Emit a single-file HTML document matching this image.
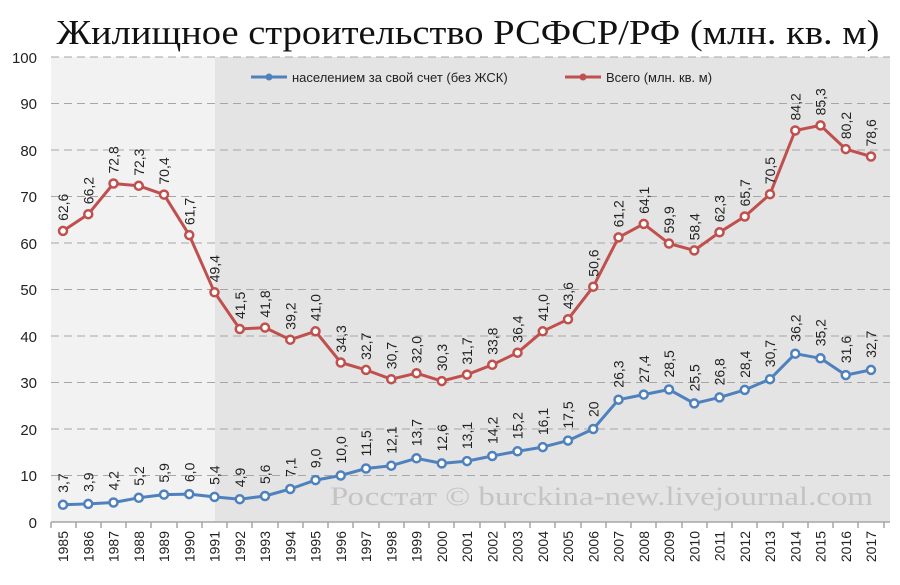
<!DOCTYPE html>
<html><head><meta charset="utf-8"><style>
html,body{margin:0;padding:0;background:#fff;}
svg{display:block;font-family:"Liberation Sans",sans-serif;}
</style></head><body>
<svg width="900" height="585" viewBox="0 0 900 585" xmlns="http://www.w3.org/2000/svg">
<text x="468" y="44" text-anchor="middle" font-family="Liberation Serif, serif" font-size="35" textLength="823" lengthAdjust="spacingAndGlyphs" fill="#111">Жилищное строительство РСФСР/РФ (млн. кв. м)</text>
<rect x="51" y="57" width="164" height="465" fill="#f2f2f2"/>
<rect x="215" y="57" width="675" height="465" fill="#e4e4e4"/>
<g stroke="#a6a6a6" stroke-width="1" stroke-dasharray="8,5">
<line x1="51" y1="57" x2="890" y2="57"/><line x1="51" y1="103.5" x2="890" y2="103.5"/><line x1="51" y1="150" x2="890" y2="150"/><line x1="51" y1="196.5" x2="890" y2="196.5"/><line x1="51" y1="243" x2="890" y2="243"/><line x1="51" y1="289.5" x2="890" y2="289.5"/><line x1="51" y1="336" x2="890" y2="336"/><line x1="51" y1="382.5" x2="890" y2="382.5"/><line x1="51" y1="429" x2="890" y2="429"/><line x1="51" y1="475.5" x2="890" y2="475.5"/>
</g>
<line x1="51" y1="522" x2="890" y2="522" stroke="#a6a6a6" stroke-width="1.5"/>
<g font-size="15" fill="#222" text-anchor="end">
<text x="37" y="63">100</text><text x="37" y="109">90</text><text x="37" y="156">80</text><text x="37" y="202">70</text><text x="37" y="249">60</text><text x="37" y="295">50</text><text x="37" y="342">40</text><text x="37" y="388">30</text><text x="37" y="435">20</text><text x="37" y="481">10</text><text x="37" y="528">0</text>
</g>
<g stroke="#a6a6a6" stroke-width="1.5">
<line x1="51" y1="522" x2="51" y2="528"/><line x1="76" y1="522" x2="76" y2="528"/><line x1="101" y1="522" x2="101" y2="528"/><line x1="126" y1="522" x2="126" y2="528"/><line x1="151" y1="522" x2="151" y2="528"/><line x1="177" y1="522" x2="177" y2="528"/><line x1="202" y1="522" x2="202" y2="528"/><line x1="227" y1="522" x2="227" y2="528"/><line x1="252" y1="522" x2="252" y2="528"/><line x1="278" y1="522" x2="278" y2="528"/><line x1="303" y1="522" x2="303" y2="528"/><line x1="328" y1="522" x2="328" y2="528"/><line x1="353" y1="522" x2="353" y2="528"/><line x1="379" y1="522" x2="379" y2="528"/><line x1="404" y1="522" x2="404" y2="528"/><line x1="429" y1="522" x2="429" y2="528"/><line x1="454" y1="522" x2="454" y2="528"/><line x1="480" y1="522" x2="480" y2="528"/><line x1="505" y1="522" x2="505" y2="528"/><line x1="530" y1="522" x2="530" y2="528"/><line x1="555" y1="522" x2="555" y2="528"/><line x1="581" y1="522" x2="581" y2="528"/><line x1="606" y1="522" x2="606" y2="528"/><line x1="631" y1="522" x2="631" y2="528"/><line x1="656" y1="522" x2="656" y2="528"/><line x1="682" y1="522" x2="682" y2="528"/><line x1="707" y1="522" x2="707" y2="528"/><line x1="732" y1="522" x2="732" y2="528"/><line x1="757" y1="522" x2="757" y2="528"/><line x1="783" y1="522" x2="783" y2="528"/><line x1="808" y1="522" x2="808" y2="528"/><line x1="833" y1="522" x2="833" y2="528"/><line x1="858" y1="522" x2="858" y2="528"/><line x1="884" y1="522" x2="884" y2="528"/>
</g>
<g font-size="14" fill="#222" text-anchor="end">
<text transform="translate(68,531) rotate(-90)">1985</text><text transform="translate(93.25,531) rotate(-90)">1986</text><text transform="translate(118.5,531) rotate(-90)">1987</text><text transform="translate(143.75,531) rotate(-90)">1988</text><text transform="translate(169,531) rotate(-90)">1989</text><text transform="translate(194.25,531) rotate(-90)">1990</text><text transform="translate(219.5,531) rotate(-90)">1991</text><text transform="translate(244.75,531) rotate(-90)">1992</text><text transform="translate(270,531) rotate(-90)">1993</text><text transform="translate(295.25,531) rotate(-90)">1994</text><text transform="translate(320.5,531) rotate(-90)">1995</text><text transform="translate(345.75,531) rotate(-90)">1996</text><text transform="translate(371,531) rotate(-90)">1997</text><text transform="translate(396.25,531) rotate(-90)">1998</text><text transform="translate(421.5,531) rotate(-90)">1999</text><text transform="translate(446.75,531) rotate(-90)">2000</text><text transform="translate(472,531) rotate(-90)">2001</text><text transform="translate(497.25,531) rotate(-90)">2002</text><text transform="translate(522.5,531) rotate(-90)">2003</text><text transform="translate(547.75,531) rotate(-90)">2004</text><text transform="translate(573,531) rotate(-90)">2005</text><text transform="translate(598.25,531) rotate(-90)">2006</text><text transform="translate(623.5,531) rotate(-90)">2007</text><text transform="translate(648.75,531) rotate(-90)">2008</text><text transform="translate(674,531) rotate(-90)">2009</text><text transform="translate(699.25,531) rotate(-90)">2010</text><text transform="translate(724.5,531) rotate(-90)">2011</text><text transform="translate(749.75,531) rotate(-90)">2012</text><text transform="translate(775,531) rotate(-90)">2013</text><text transform="translate(800.25,531) rotate(-90)">2014</text><text transform="translate(825.5,531) rotate(-90)">2015</text><text transform="translate(850.75,531) rotate(-90)">2016</text><text transform="translate(876,531) rotate(-90)">2017</text>
</g>
<text x="330" y="505" font-family="Liberation Serif, serif" font-size="26" fill="#c4c4c4" textLength="543" lengthAdjust="spacingAndGlyphs">Росстат © burckina-new.livejournal.com</text>
<line x1="251" y1="77" x2="287" y2="77" stroke="#4f81bd" stroke-width="3"/><circle cx="269" cy="77" r="3.5" fill="#4f81bd"/>
<text x="292" y="82" font-size="13" fill="#222">населением за свой счет (без ЖСК)</text>
<line x1="565" y1="77" x2="601" y2="77" stroke="#c0504d" stroke-width="3"/><circle cx="583" cy="77" r="3.5" fill="#c0504d"/>
<text x="606" y="82" font-size="13" fill="#222">Всего (млн. кв. м)</text>
<polyline fill="none" stroke="#c0504d" stroke-width="3" stroke-linejoin="round" points="63,230.9 88.25,214.2 113.5,183.5 138.75,185.8 164,194.6 189.25,235.1 214.5,292.3 239.75,329 265,327.6 290.25,339.7 315.5,331.3 340.75,362.5 366,369.9 391.25,379.2 416.5,373.2 441.75,381.1 467,374.6 492.25,364.8 517.5,352.7 542.75,331.3 568,319.3 593.25,286.7 618.5,237.4 643.75,223.9 669,243.5 694.25,250.4 719.5,232.3 744.75,216.5 770,194.2 795.25,130.5 820.5,125.4 845.75,149.1 871,156.5"/>
<g fill="#fff" stroke="#c0504d" stroke-width="2.5">
<circle cx="63" cy="230.9" r="4"/><circle cx="88.25" cy="214.2" r="4"/><circle cx="113.5" cy="183.5" r="4"/><circle cx="138.75" cy="185.8" r="4"/><circle cx="164" cy="194.6" r="4"/><circle cx="189.25" cy="235.1" r="4"/><circle cx="214.5" cy="292.3" r="4"/><circle cx="239.75" cy="329" r="4"/><circle cx="265" cy="327.6" r="4"/><circle cx="290.25" cy="339.7" r="4"/><circle cx="315.5" cy="331.3" r="4"/><circle cx="340.75" cy="362.5" r="4"/><circle cx="366" cy="369.9" r="4"/><circle cx="391.25" cy="379.2" r="4"/><circle cx="416.5" cy="373.2" r="4"/><circle cx="441.75" cy="381.1" r="4"/><circle cx="467" cy="374.6" r="4"/><circle cx="492.25" cy="364.8" r="4"/><circle cx="517.5" cy="352.7" r="4"/><circle cx="542.75" cy="331.3" r="4"/><circle cx="568" cy="319.3" r="4"/><circle cx="593.25" cy="286.7" r="4"/><circle cx="618.5" cy="237.4" r="4"/><circle cx="643.75" cy="223.9" r="4"/><circle cx="669" cy="243.5" r="4"/><circle cx="694.25" cy="250.4" r="4"/><circle cx="719.5" cy="232.3" r="4"/><circle cx="744.75" cy="216.5" r="4"/><circle cx="770" cy="194.2" r="4"/><circle cx="795.25" cy="130.5" r="4"/><circle cx="820.5" cy="125.4" r="4"/><circle cx="845.75" cy="149.1" r="4"/><circle cx="871" cy="156.5" r="4"/>
</g>
<g font-size="14" fill="#222">
<text transform="translate(68,220.9) rotate(-90)">62,6</text><text transform="translate(93.25,204.2) rotate(-90)">66,2</text><text transform="translate(118.5,173.5) rotate(-90)">72,8</text><text transform="translate(143.75,175.8) rotate(-90)">72,3</text><text transform="translate(169,184.6) rotate(-90)">70,4</text><text transform="translate(194.25,225.1) rotate(-90)">61,7</text><text transform="translate(219.5,282.3) rotate(-90)">49,4</text><text transform="translate(244.75,319) rotate(-90)">41,5</text><text transform="translate(270,317.6) rotate(-90)">41,8</text><text transform="translate(295.25,329.7) rotate(-90)">39,2</text><text transform="translate(320.5,321.3) rotate(-90)">41,0</text><text transform="translate(345.75,352.5) rotate(-90)">34,3</text><text transform="translate(371,359.9) rotate(-90)">32,7</text><text transform="translate(396.25,369.2) rotate(-90)">30,7</text><text transform="translate(421.5,363.2) rotate(-90)">32,0</text><text transform="translate(446.75,371.1) rotate(-90)">30,3</text><text transform="translate(472,364.6) rotate(-90)">31,7</text><text transform="translate(497.25,354.8) rotate(-90)">33,8</text><text transform="translate(522.5,342.7) rotate(-90)">36,4</text><text transform="translate(547.75,321.3) rotate(-90)">41,0</text><text transform="translate(573,309.3) rotate(-90)">43,6</text><text transform="translate(598.25,276.7) rotate(-90)">50,6</text><text transform="translate(623.5,227.4) rotate(-90)">61,2</text><text transform="translate(648.75,213.9) rotate(-90)">64,1</text><text transform="translate(674,233.5) rotate(-90)">59,9</text><text transform="translate(699.25,240.4) rotate(-90)">58,4</text><text transform="translate(724.5,222.3) rotate(-90)">62,3</text><text transform="translate(749.75,206.5) rotate(-90)">65,7</text><text transform="translate(775,184.2) rotate(-90)">70,5</text><text transform="translate(800.25,120.5) rotate(-90)">84,2</text><text transform="translate(825.5,115.4) rotate(-90)">85,3</text><text transform="translate(850.75,139.1) rotate(-90)">80,2</text><text transform="translate(876,146.5) rotate(-90)">78,6</text>
</g>
<polyline fill="none" stroke="#4f81bd" stroke-width="3" stroke-linejoin="round" points="63,504.8 88.25,503.9 113.5,502.5 138.75,497.8 164,494.6 189.25,494.1 214.5,496.9 239.75,499.2 265,496 290.25,489 315.5,480.1 340.75,475.5 366,468.5 391.25,465.7 416.5,458.3 441.75,463.4 467,461.1 492.25,456 517.5,451.3 542.75,447.1 568,440.6 593.25,429 618.5,399.7 643.75,394.6 669,389.5 694.25,403.4 719.5,397.4 744.75,389.9 770,379.2 795.25,353.7 820.5,358.3 845.75,375.1 871,369.9"/>
<g fill="#fff" stroke="#4f81bd" stroke-width="2.5">
<circle cx="63" cy="504.8" r="4"/><circle cx="88.25" cy="503.9" r="4"/><circle cx="113.5" cy="502.5" r="4"/><circle cx="138.75" cy="497.8" r="4"/><circle cx="164" cy="494.6" r="4"/><circle cx="189.25" cy="494.1" r="4"/><circle cx="214.5" cy="496.9" r="4"/><circle cx="239.75" cy="499.2" r="4"/><circle cx="265" cy="496" r="4"/><circle cx="290.25" cy="489" r="4"/><circle cx="315.5" cy="480.1" r="4"/><circle cx="340.75" cy="475.5" r="4"/><circle cx="366" cy="468.5" r="4"/><circle cx="391.25" cy="465.7" r="4"/><circle cx="416.5" cy="458.3" r="4"/><circle cx="441.75" cy="463.4" r="4"/><circle cx="467" cy="461.1" r="4"/><circle cx="492.25" cy="456" r="4"/><circle cx="517.5" cy="451.3" r="4"/><circle cx="542.75" cy="447.1" r="4"/><circle cx="568" cy="440.6" r="4"/><circle cx="593.25" cy="429" r="4"/><circle cx="618.5" cy="399.7" r="4"/><circle cx="643.75" cy="394.6" r="4"/><circle cx="669" cy="389.5" r="4"/><circle cx="694.25" cy="403.4" r="4"/><circle cx="719.5" cy="397.4" r="4"/><circle cx="744.75" cy="389.9" r="4"/><circle cx="770" cy="379.2" r="4"/><circle cx="795.25" cy="353.7" r="4"/><circle cx="820.5" cy="358.3" r="4"/><circle cx="845.75" cy="375.1" r="4"/><circle cx="871" cy="369.9" r="4"/>
</g>
<g font-size="14" fill="#222">
<text transform="translate(68,492.8) rotate(-90)">3,7</text><text transform="translate(93.25,491.9) rotate(-90)">3,9</text><text transform="translate(118.5,490.5) rotate(-90)">4,2</text><text transform="translate(143.75,485.8) rotate(-90)">5,2</text><text transform="translate(169,482.6) rotate(-90)">5,9</text><text transform="translate(194.25,482.1) rotate(-90)">6,0</text><text transform="translate(219.5,484.9) rotate(-90)">5,4</text><text transform="translate(244.75,487.2) rotate(-90)">4,9</text><text transform="translate(270,484) rotate(-90)">5,6</text><text transform="translate(295.25,477) rotate(-90)">7,1</text><text transform="translate(320.5,468.1) rotate(-90)">9,0</text><text transform="translate(345.75,463.5) rotate(-90)">10,0</text><text transform="translate(371,456.5) rotate(-90)">11,5</text><text transform="translate(396.25,453.7) rotate(-90)">12,1</text><text transform="translate(421.5,446.3) rotate(-90)">13,7</text><text transform="translate(446.75,451.4) rotate(-90)">12,6</text><text transform="translate(472,449.1) rotate(-90)">13,1</text><text transform="translate(497.25,444) rotate(-90)">14,2</text><text transform="translate(522.5,439.3) rotate(-90)">15,2</text><text transform="translate(547.75,435.1) rotate(-90)">16,1</text><text transform="translate(573,428.6) rotate(-90)">17,5</text><text transform="translate(598.25,417) rotate(-90)">20</text><text transform="translate(623.5,387.7) rotate(-90)">26,3</text><text transform="translate(648.75,382.6) rotate(-90)">27,4</text><text transform="translate(674,377.5) rotate(-90)">28,5</text><text transform="translate(699.25,391.4) rotate(-90)">25,5</text><text transform="translate(724.5,385.4) rotate(-90)">26,8</text><text transform="translate(749.75,377.9) rotate(-90)">28,4</text><text transform="translate(775,367.2) rotate(-90)">30,7</text><text transform="translate(800.25,341.7) rotate(-90)">36,2</text><text transform="translate(825.5,346.3) rotate(-90)">35,2</text><text transform="translate(850.75,363.1) rotate(-90)">31,6</text><text transform="translate(876,357.9) rotate(-90)">32,7</text>
</g>
</svg>
</body></html>
